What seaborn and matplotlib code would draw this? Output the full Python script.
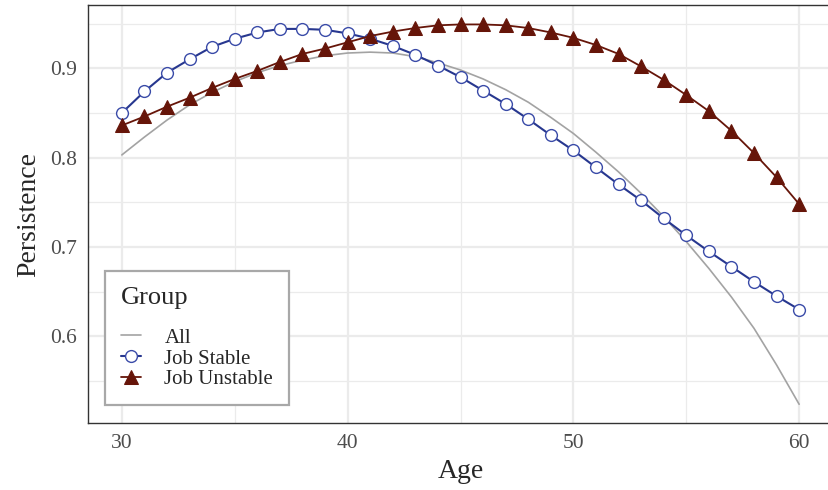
import matplotlib
matplotlib.use("Agg")
import matplotlib.pyplot as plt
from matplotlib.ticker import MultipleLocator
import pandas as pd
import seaborn as sns

age = list(range(30, 61))

job_stable = [0.850, 0.874, 0.895, 0.910, 0.924, 0.933, 0.940, 0.944, 0.944, 0.943,
              0.939, 0.933, 0.925, 0.915, 0.903, 0.890, 0.875, 0.860, 0.843, 0.825,
              0.808, 0.789, 0.770, 0.752, 0.732, 0.713, 0.695, 0.678, 0.661, 0.645,
              0.630]

job_unstable = [0.836, 0.846, 0.857, 0.867, 0.878, 0.888, 0.897, 0.907, 0.916, 0.922,
                0.929, 0.936, 0.941, 0.945, 0.948, 0.949, 0.949, 0.948, 0.945, 0.940,
                0.934, 0.926, 0.916, 0.902, 0.887, 0.870, 0.852, 0.830, 0.805, 0.778,
                0.748]

all_group = [0.803, 0.823, 0.842, 0.859, 0.873, 0.885, 0.895, 0.903, 0.909, 0.914,
             0.917, 0.918, 0.917, 0.913, 0.906, 0.898, 0.888, 0.876, 0.862, 0.845,
             0.827, 0.806, 0.784, 0.760, 0.734, 0.706, 0.676, 0.644, 0.609, 0.568,
             0.524]

groups = ["All", "Job Stable", "Job Unstable"]

df = pd.DataFrame({
    "Age": age * 3,
    "Persistence": all_group + job_stable + job_unstable,
    "Group": [g for g in groups for _ in age],
})

sns.set_style("white")
plt.rcParams["font.family"] = ["Liberation Serif", "DejaVu Serif"]

fig = plt.figure(figsize=(8.29, 4.90), dpi=100)
ax = fig.add_axes([88 / 829, 1 - 423.3 / 490, 745 / 829, (423.3 - 5.4) / 490])

gray = "#A3A3A3"
blue = "#27378F"
red = "#661509"

sns.lineplot(data=df[df.Group == "All"], x="Age", y="Persistence", ax=ax,
             color=gray, linewidth=1.2, label="All")
sns.lineplot(data=df[df.Group == "Job Stable"], x="Age", y="Persistence", ax=ax,
             color=blue, linewidth=1.5, marker="o", markersize=8.5,
             markerfacecolor="white", markeredgecolor="#3A4BA8", markeredgewidth=1.0,
             label="Job Stable")
sns.lineplot(data=df[df.Group == "Job Unstable"], x="Age", y="Persistence", ax=ax,
             color=red, linewidth=1.3, marker="^", markersize=9.5,
             markeredgecolor=red, label="Job Unstable")

ax.set_xlim(28.5, 61.5)
ax.set_ylim(0.5027, 0.9703)
ax.xaxis.set_minor_locator(MultipleLocator(5))
ax.yaxis.set_minor_locator(MultipleLocator(0.05))
ax.set_yticks([0.6, 0.7, 0.8, 0.9])
ax.set_yticklabels(["0.6", "0.7", "0.8", "0.9"])
ax.set_xticks([30, 40, 50, 60])
ax.set_xticklabels(["30", "40", "50", "60"])

ax.grid(which="major", color="#EBEBEB", linewidth=1.6, zorder=0)
ax.grid(which="minor", color="#EBEBEB", linewidth=0.9, zorder=0)
ax.set_axisbelow(True)

for s in ax.spines.values():
    s.set_color("#333333")
    s.set_linewidth(1.0)

ax.tick_params(which="major", length=5, width=1.0, color="#333333",
               labelsize=15.5, labelcolor="#4D4D4D", pad=3)
ax.tick_params(which="minor", length=0)

ax.set_xlabel("Age", fontsize=20, labelpad=4)
ax.set_ylabel("Persistence", fontsize=20, labelpad=6)

leg = ax.legend(title="Group", loc="lower left", bbox_to_anchor=(0.0228, 0.0438),
                borderaxespad=0, fontsize=15, title_fontsize=19,
                frameon=True, fancybox=False, framealpha=1, edgecolor="#A8A8A8",
                handlelength=1.0, handletextpad=1.1, labelspacing=0.06,
                borderpad=0.75, alignment="left")
leg.get_frame().set_linewidth(1.6)
leg._legend_box.sep = 14

fig.savefig("out.png", dpi=100)
